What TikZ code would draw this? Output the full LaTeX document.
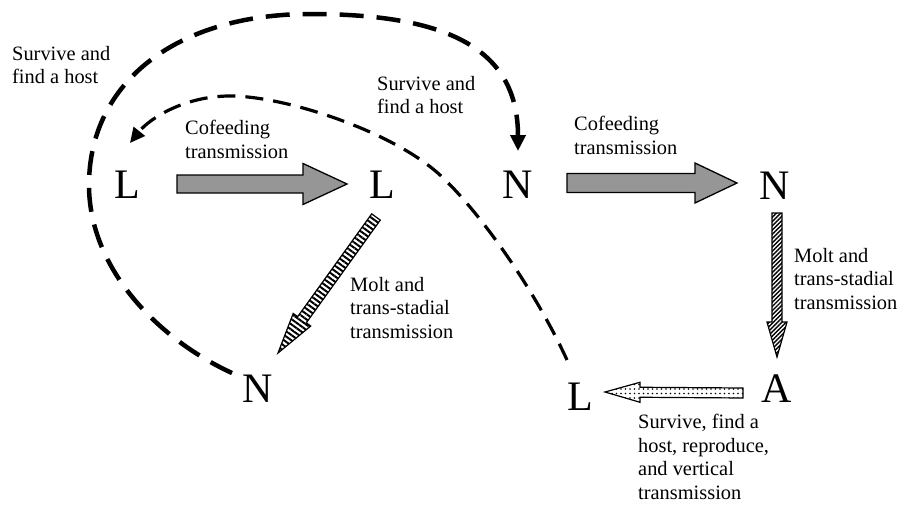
\documentclass[tikz,border=0pt]{standalone}
\usepackage{fontspec}
\setmainfont{Liberation Serif}
\usetikzlibrary{calc,arrows.meta,patterns.meta}
\definecolor{arrowgray}{RGB}{150,150,150}
% block arrow from #1 (tail) to #2 (tip); #3 shaft width, #4 head width, #5 head length, #6 style
\newcommand\blockarrow[6]{%
  \path[#6] let \p1=(#1), \p2=(#2),
    \n1={veclen(\x2-\x1,\y2-\y1)}, \n2={atan2(\y2-\y1,\x2-\x1)} in
    ($(\p1)+(\n2-90:#3pt/2)$) --
    ($(\p1)+(\n2:\n1-#5pt)+(\n2-90:#3pt/2)$) --
    ($(\p1)+(\n2:\n1-#5pt)+(\n2-90:#4pt/2)$) --
    (\p2) --
    ($(\p1)+(\n2:\n1-#5pt)+(\n2+90:#4pt/2)$) --
    ($(\p1)+(\n2:\n1-#5pt)+(\n2+90:#3pt/2)$) --
    ($(\p1)+(\n2+90:#3pt/2)$) -- cycle;}
\tikzset{
  big/.style={font=\fontsize{42}{42}\selectfont, inner sep=0pt, anchor=base},
  lbl/.style={font=\fontsize{20.4}{23.6}\selectfont, align=left, inner sep=0pt, anchor=north west},
  grayarrow/.style={draw=black, line width=1.3pt, fill=arrowgray, line join=miter},
  hatchdiag/.style={draw=black, line width=1.2pt, pattern={Lines[angle=144,distance=4.3pt,line width=2pt]}},
  hatchvert/.style={draw=black, line width=1.2pt, pattern={Lines[angle=45,distance=3pt,line width=1.4pt]}},
  dotarrow/.style={draw=black, line width=1.2pt, pattern={Dots[distance=4.5pt,radius=0.9pt]}},
  outerdash/.style={line width=4.5pt, dash pattern=on 24pt off 13pt, -{Triangle[length=16pt,width=15pt]}},
  innerdash/.style={line width=3.2pt, dash pattern=on 18pt off 10pt, -{Triangle[length=15pt,width=14pt]}},
}
\begin{document}
\begin{tikzpicture}[x=1pt,y=1pt]
\useasboundingbox (0,0) rectangle (906,-506);
% stage nodes
\node[big] (L1) at (127,-198) {L};
\node[big] (L2) at (382,-198) {L};
\node[big] (N1) at (518,-198) {N};
\node[big] (N2) at (775,-199) {N};
\node[big] (N3) at (258,-402) {N};
\node[big] (L3) at (580,-410) {L};
\node[big] (A)  at (777,-402) {A};
% labels
\node[lbl] (t1) at (12,-46) {Survive and\\find a host};
\node[lbl] (t2) at (377,-76) {Survive and\\find a host};
\node[lbl] (t3) at (185,-120) {Cofeeding\\transmission};
\node[lbl] (t4) at (574,-116) {Cofeeding\\transmission};
\node[lbl] (t5) at (350,-277) {Molt and\\trans-stadial\\transmission};
\node[lbl] (t6) at (794,-248) {Molt and\\trans-stadial\\transmission};
\node[lbl] (t7) at (638,-414) {Survive, find a\\host, reproduce,\\and vertical\\transmission};
% block arrows
\blockarrow{$(L1.base)+(50,14)$}{$(L2.base)+(-35,14)$}{18}{41}{44}{grayarrow}
\blockarrow{$(N1.base)+(49,15)$}{$(N2.base)+(-38,16)$}{19}{40}{42}{grayarrow}
\blockarrow{$(L2.base)+(-6,-19)$}{$(N3.base)+(20,49)$}{10.6}{21.6}{41}{hatchdiag}
\blockarrow{$(N2.base)+(2,-14)$}{$(A.base)+(0,45)$}{10}{20}{35}{hatchvert}
\blockarrow{$(A.base)+(-34,9)$}{$(L3.base)+(25,18)$}{10}{20}{35}{dotarrow}
% dashed survival loops
\draw[outerdash] ($(N3.base)+(-26,29)$) .. controls (160,-340) and (89,-270) .. (89,-185)
  .. controls (89,-82) and (177,-14) .. (310,-14)
  .. controls (450,-14) and (518,-50) .. ($(N1.base)+(0,47)$);
\draw[innerdash] ($(L3.base)+(-13,50)$) .. controls (535,-290) and (480,-212) .. (440,-175)
  .. controls (392,-131) and (285,-96) .. (230,-96)
  .. controls (185,-96) and (150,-118) .. ($(L1.base)+(3,55)$);
\end{tikzpicture}
\end{document}
